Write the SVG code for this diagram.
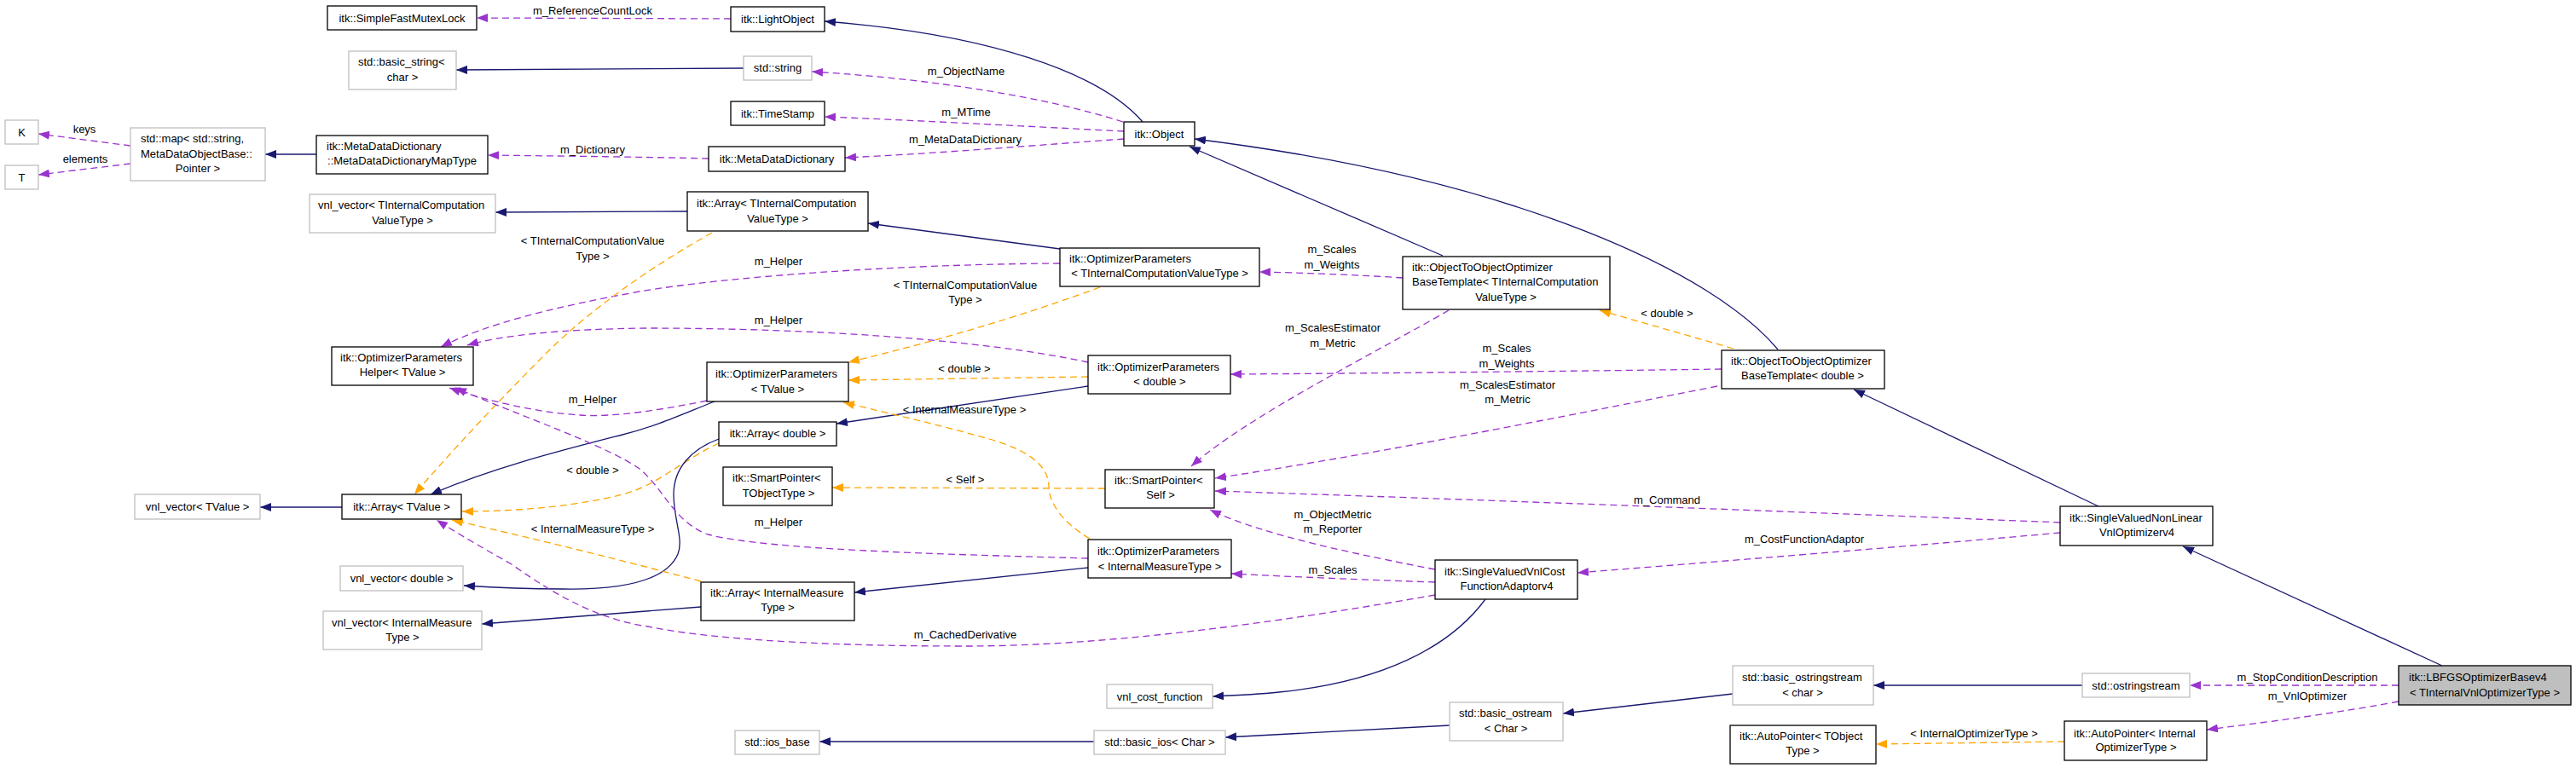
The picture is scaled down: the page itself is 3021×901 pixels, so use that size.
<svg xmlns="http://www.w3.org/2000/svg" width="3021" height="901" viewBox="0 0 3021 901">
<style>
text{font-family:"Liberation Sans",Arial,Helvetica,sans-serif;font-size:13px;fill:#000}
.t{text-anchor:middle}
.tl{text-anchor:start}
.nb{fill:#fff;stroke:#000;stroke-width:1.3}
.ng{fill:#fff;stroke:#bfbfbf;stroke-width:1.3}
.nm{fill:#bfbfbf;stroke:#000;stroke-width:1.3}
.e{fill:none;stroke-width:1.3}
.n{stroke:#191970;marker-end:url(#aN)}
.p{stroke:#9a32cd;stroke-dasharray:8,5;marker-end:url(#aP)}
.o{stroke:#ffa500;stroke-dasharray:8,5;marker-end:url(#aO)}
</style>
<defs>
<marker id="aN" markerUnits="userSpaceOnUse" markerWidth="14" markerHeight="10" refX="13" refY="5" orient="auto"><path d="M0,0 L13,5 L0,10 z" fill="#191970"/></marker>
<marker id="aP" markerUnits="userSpaceOnUse" markerWidth="14" markerHeight="10" refX="13" refY="5" orient="auto"><path d="M0,0 L13,5 L0,10 z" fill="#9a32cd"/></marker>
<marker id="aO" markerUnits="userSpaceOnUse" markerWidth="14" markerHeight="10" refX="13" refY="5" orient="auto"><path d="M0,0 L13,5 L0,10 z" fill="#ffa500"/></marker>
</defs>
<rect width="3021" height="901" fill="#fff"/>
<g id="edges">
<path class="e p" d="M857,22 L559,21"/>
<path class="e n" d="M1340,143 C1290,85 1160,40 967,25"/>
<path class="e n" d="M872,80 L535,82"/>
<path class="e p" d="M1317,143 C1230,115 1100,93 952,84"/>
<path class="e p" d="M1318,154 C1200,148 1050,140 967,137"/>
<path class="e p" d="M1318,163 C1220,170 1100,180 991,185"/>
<path class="e p" d="M153,171 L45,157"/>
<path class="e p" d="M153,192 L45,205"/>
<path class="e n" d="M371,181 L311,181"/>
<path class="e p" d="M831,186 C750,184 650,183 572,182"/>
<path class="e n" d="M806,248 L581,249"/>
<path class="e n" d="M1243,292 L1018,262"/>
<path class="e p" d="M1243,309 C1050,310 850,325 750,342 C650,360 570,380 517,407"/>
<path class="e o" d="M835,273 C760,315 690,365 640,415 C580,475 520,540 486,580"/>
<path class="e o" d="M1290,337 C1200,370 1100,400 995,425"/>
<path class="e p" d="M1645,326 C1600,323 1530,320 1477,319"/>
<path class="e n" d="M1692,300 L1395,172"/>
<path class="e o" d="M2033,409 L1876,364"/>
<path class="e n" d="M2085,410 C2010,320 1780,210 1401,163"/>
<path class="e p" d="M1276,425 C1150,398 950,385 760,385 C660,386 590,393 548,405"/>
<path class="e o" d="M1276,442 L995,446"/>
<path class="e n" d="M1276,453 L981,497"/>
<path class="e p" d="M2019,433 C1800,436 1600,438 1443,439"/>
<path class="e p" d="M1699,364 C1620,410 1460,490 1397,547"/>
<path class="e p" d="M2014,453 C1800,495 1600,535 1425,561"/>
<path class="e p" d="M829,470 C780,480 720,490 680,487 C630,484 570,470 527,455"/>
<path class="e n" d="M838,471 C800,486 770,500 730,510 C660,528 580,548 505,580"/>
<path class="e n" d="M401,595 L305,595"/>
<path class="e o" d="M843,520 C800,540 770,570 730,580 C680,593 610,600 542,600"/>
<path class="e n" d="M843,515 C810,527 790,550 790,580 C790,610 802,632 795,650 C780,685 720,692 660,691 C610,691 575,689 544,687"/>
<path class="e o" d="M1296,573 L976,572"/>
<path class="e o" d="M822,682 C740,660 640,635 530,610"/>
<path class="e o" d="M1278,632 C1245,612 1230,590 1230,570 C1229,545 1205,528 1160,515 C1100,498 1030,482 989,472"/>
<path class="e p" d="M1276,655 C1100,650 900,645 830,627 C790,612 780,575 750,550 C710,522 610,488 534,455"/>
<path class="e n" d="M1276,666 L1002,695"/>
<path class="e n" d="M822,712 L565,732"/>
<path class="e p" d="M1683,698 C1500,730 1300,758 1132,758 C950,758 820,748 760,735 C710,728 660,705 600,662 C570,645 540,628 512,610"/>
<path class="e p" d="M1683,683 C1600,680 1520,677 1444,673"/>
<path class="e p" d="M1683,668 C1600,652 1480,628 1419,598"/>
<path class="e n" d="M1742,703 C1700,760 1620,800 1500,812 C1470,815 1445,816 1422,817"/>
<path class="e p" d="M2416,613 C2100,600 1700,585 1425,576"/>
<path class="e p" d="M2416,625 C2250,640 2000,660 1850,672"/>
<path class="e n" d="M2461,594 L2174,457"/>
<path class="e n" d="M2864,781 L2560,641"/>
<path class="e p" d="M2813,804 L2568,804"/>
<path class="e p" d="M2813,823 C2720,840 2650,848 2588,856"/>
<path class="e o" d="M2421,870 L2200,873"/>
<path class="e n" d="M2442,804 L2197,804"/>
<path class="e n" d="M2032,814 L1833,837"/>
<path class="e n" d="M1700,851 L1437,865"/>
<path class="e n" d="M1283,870 L961,870"/>
<text class="t" x="695" y="17">m_ReferenceCountLock</text>
<text class="t" x="1133" y="88">m_ObjectName</text>
<text class="t" x="1133" y="136">m_MTime</text>
<text class="t" x="1132" y="168">m_MetaDataDictionary</text>
<text class="t" x="99" y="156">keys</text>
<text class="t" x="100" y="191">elements</text>
<text class="t" x="695" y="179.5">m_Dictionary</text>
<text class="t" x="695" y="287">&lt; TInternalComputationValue</text>
<text class="t" x="695" y="304.5">Type &gt;</text>
<text class="t" x="913" y="311">m_Helper</text>
<text class="t" x="1132" y="339">&lt; TInternalComputationValue</text>
<text class="t" x="1132" y="356">Type &gt;</text>
<text class="t" x="913" y="380">m_Helper</text>
<text class="t" x="1562" y="297">m_Scales</text>
<text class="t" x="1562" y="315">m_Weights</text>
<text class="t" x="1563" y="389">m_ScalesEstimator</text>
<text class="t" x="1563" y="407">m_Metric</text>
<text class="t" x="1955" y="372">&lt; double &gt;</text>
<text class="t" x="1767" y="413">m_Scales</text>
<text class="t" x="1767" y="431">m_Weights</text>
<text class="t" x="1768" y="456">m_ScalesEstimator</text>
<text class="t" x="1768" y="473">m_Metric</text>
<text class="t" x="1131" y="437">&lt; double &gt;</text>
<text class="t" x="695" y="473">m_Helper</text>
<text class="t" x="1131" y="485">&lt; InternalMeasureType &gt;</text>
<text class="t" x="695" y="555.5">&lt; double &gt;</text>
<text class="t" x="1132" y="567">&lt; Self &gt;</text>
<text class="t" x="1955" y="591">m_Command</text>
<text class="t" x="1563" y="608">m_ObjectMetric</text>
<text class="t" x="1563" y="625">m_Reporter</text>
<text class="t" x="913" y="617">m_Helper</text>
<text class="t" x="695" y="625">&lt; InternalMeasureType &gt;</text>
<text class="t" x="2116" y="637">m_CostFunctionAdaptor</text>
<text class="t" x="1563" y="673">m_Scales</text>
<text class="t" x="1132" y="749">m_CachedDerivative</text>
<text class="t" x="2315" y="864.5">&lt; InternalOptimizerType &gt;</text>
<text class="t" x="2706" y="799">m_StopConditionDescription</text>
<text class="t" x="2706" y="821">m_VnlOptimizer</text>
</g>
<g id="n_sfml"><rect class="nb" x="384" y="7" width="175" height="28"/><text class="t" x="471.5" y="25.5">itk::SimpleFastMutexLock</text></g>
<g id="n_lightobject"><rect class="nb" x="857" y="8" width="110" height="29"/><text class="t" x="912" y="27">itk::LightObject</text></g>
<g id="n_basicstring"><rect class="ng" x="409" y="60" width="126" height="45"/><text class="tl" x="420" y="77">std::basic_string&lt;</text><text class="t" x="472" y="95">char &gt;</text></g>
<g id="n_string"><rect class="ng" x="872" y="66" width="80" height="28"/><text class="t" x="912" y="84">std::string</text></g>
<g id="n_timestamp"><rect class="nb" x="857" y="119" width="110" height="28"/><text class="t" x="912" y="137.5">itk::TimeStamp</text></g>
<g id="n_K"><rect class="ng" x="6" y="141" width="39" height="28"/><text class="t" x="25.5" y="159.5">K</text></g>
<g id="n_T"><rect class="ng" x="6" y="194" width="39" height="28"/><text class="t" x="25.5" y="212.5">T</text></g>
<g id="n_map"><rect class="ng" x="153" y="150" width="158" height="62"/><text class="tl" x="165" y="167">std::map&lt; std::string,</text><text class="tl" x="165" y="184.5">MetaDataObjectBase::</text><text class="t" x="232" y="202">Pointer &gt;</text></g>
<g id="n_maptype"><rect class="nb" x="371" y="159" width="201" height="45"/><text class="tl" x="383" y="176">itk::MetaDataDictionary</text><text class="t" x="471.5" y="192.5">::MetaDataDictionaryMapType</text></g>
<g id="n_mdd"><rect class="nb" x="831" y="172" width="160" height="29"/><text class="t" x="911" y="190.5">itk::MetaDataDictionary</text></g>
<g id="n_object"><rect class="nb" x="1318" y="143" width="83" height="28"/><text class="t" x="1359.5" y="161.5">itk::Object</text></g>
<g id="n_vnlticvt"><rect class="ng" x="363" y="228" width="218" height="45"/><text class="tl" x="373" y="245">vnl_vector&lt; TInternalComputation</text><text class="t" x="472" y="263">ValueType &gt;</text></g>
<g id="n_arrticvt"><rect class="nb" x="806" y="225" width="212" height="46"/><text class="tl" x="817" y="243">itk::Array&lt; TInternalComputation</text><text class="t" x="912" y="260.5">ValueType &gt;</text></g>
<g id="n_opticvt"><rect class="nb" x="1243" y="291" width="234" height="45"/><text class="tl" x="1254" y="308">itk::OptimizerParameters</text><text class="t" x="1360" y="325">&lt; TInternalComputationValueType &gt;</text></g>
<g id="n_ototicvt"><rect class="nb" x="1645" y="301" width="243" height="62"/><text class="tl" x="1656" y="318">itk::ObjectToObjectOptimizer</text><text class="tl" x="1656" y="335">BaseTemplate&lt; TInternalComputation</text><text class="t" x="1766" y="353">ValueType &gt;</text></g>
<g id="n_otodouble"><rect class="nb" x="2019" y="411" width="191" height="45"/><text class="tl" x="2030" y="428">itk::ObjectToObjectOptimizer</text><text class="t" x="2114" y="445">BaseTemplate&lt; double &gt;</text></g>
<g id="n_helper"><rect class="nb" x="389" y="407" width="166" height="45"/><text class="tl" x="399" y="424">itk::OptimizerParameters</text><text class="t" x="472" y="441">Helper&lt; TValue &gt;</text></g>
<g id="n_optvalue"><rect class="nb" x="829" y="425" width="166" height="46"/><text class="tl" x="839" y="443">itk::OptimizerParameters</text><text class="t" x="912" y="460.5">&lt; TValue &gt;</text></g>
<g id="n_opdouble"><rect class="nb" x="1276" y="417" width="167" height="45"/><text class="tl" x="1287" y="435">itk::OptimizerParameters</text><text class="t" x="1360" y="452">&lt; double &gt;</text></g>
<g id="n_arrdouble"><rect class="nb" x="843" y="495" width="138" height="28"/><text class="t" x="912" y="513">itk::Array&lt; double &gt;</text></g>
<g id="n_sptobj"><rect class="nb" x="848" y="548" width="128" height="45"/><text class="tl" x="859" y="564.5">itk::SmartPointer&lt;</text><text class="t" x="913" y="583">TObjectType &gt;</text></g>
<g id="n_spself"><rect class="nb" x="1296" y="551" width="128" height="45"/><text class="tl" x="1307" y="568">itk::SmartPointer&lt;</text><text class="t" x="1361" y="585">Self &gt;</text></g>
<g id="n_arrtvalue"><rect class="nb" x="401" y="580" width="140" height="29"/><text class="t" x="471" y="598.5">itk::Array&lt; TValue &gt;</text></g>
<g id="n_vnltvalue"><rect class="ng" x="158" y="580" width="147" height="29"/><text class="t" x="231.5" y="598.5">vnl_vector&lt; TValue &gt;</text></g>
<g id="n_opimt"><rect class="nb" x="1276" y="633" width="168" height="45"/><text class="tl" x="1287" y="651">itk::OptimizerParameters</text><text class="t" x="1360" y="668.5">&lt; InternalMeasureType &gt;</text></g>
<g id="n_arrimt"><rect class="nb" x="822" y="683" width="180" height="45"/><text class="tl" x="833" y="699.5">itk::Array&lt; InternalMeasure</text><text class="t" x="912" y="717">Type &gt;</text></g>
<g id="n_vnldouble"><rect class="ng" x="399" y="664" width="144" height="29"/><text class="t" x="471" y="682.5">vnl_vector&lt; double &gt;</text></g>
<g id="n_vnlimt"><rect class="ng" x="379" y="717" width="186" height="45"/><text class="tl" x="389" y="735">vnl_vector&lt; InternalMeasure</text><text class="t" x="472" y="752">Type &gt;</text></g>
<g id="n_adaptor"><rect class="nb" x="1683" y="657" width="167" height="46"/><text class="tl" x="1694" y="675">itk::SingleValuedVnlCost</text><text class="t" x="1767" y="692">FunctionAdaptorv4</text></g>
<g id="n_svnlvo"><rect class="nb" x="2416" y="594" width="179" height="46"/><text class="tl" x="2427" y="612">itk::SingleValuedNonLinear</text><text class="t" x="2506" y="629">VnlOptimizerv4</text></g>
<g id="n_vnlcost"><rect class="ng" x="1298" y="803" width="124" height="28"/><text class="t" x="1360" y="821.5">vnl_cost_function</text></g>
<g id="n_iosbase"><rect class="ng" x="862" y="857" width="99" height="28"/><text class="t" x="911.5" y="875">std::ios_base</text></g>
<g id="n_basicios"><rect class="ng" x="1283" y="857" width="154" height="28"/><text class="t" x="1360" y="875">std::basic_ios&lt; Char &gt;</text></g>
<g id="n_basicostream"><rect class="ng" x="1700" y="824" width="133" height="45"/><text class="tl" x="1711" y="841">std::basic_ostream</text><text class="t" x="1766" y="859">&lt; Char &gt;</text></g>
<g id="n_basicostringstream"><rect class="ng" x="2032" y="781" width="165" height="46"/><text class="tl" x="2043" y="799">std::basic_ostringstream</text><text class="t" x="2114" y="816.5">&lt; char &gt;</text></g>
<g id="n_ostringstream"><rect class="ng" x="2442" y="790" width="126" height="28"/><text class="t" x="2505" y="808.5">std::ostringstream</text></g>
<g id="n_aptobj"><rect class="nb" x="2029" y="851" width="171" height="45"/><text class="tl" x="2040" y="868">itk::AutoPointer&lt; TObject</text><text class="t" x="2114" y="885">Type &gt;</text></g>
<g id="n_apinternal"><rect class="nb" x="2421" y="846" width="167" height="46"/><text class="tl" x="2432" y="864.5">itk::AutoPointer&lt; Internal</text><text class="t" x="2505" y="881">OptimizerType &gt;</text></g>
<g id="n_lbfgs"><rect class="nm" x="2813" y="781" width="202" height="46"/><text class="tl" x="2825" y="799">itk::LBFGSOptimizerBasev4</text><text class="t" x="2914" y="816.5">&lt; TInternalVnlOptimizerType &gt;</text></g>
</svg>
